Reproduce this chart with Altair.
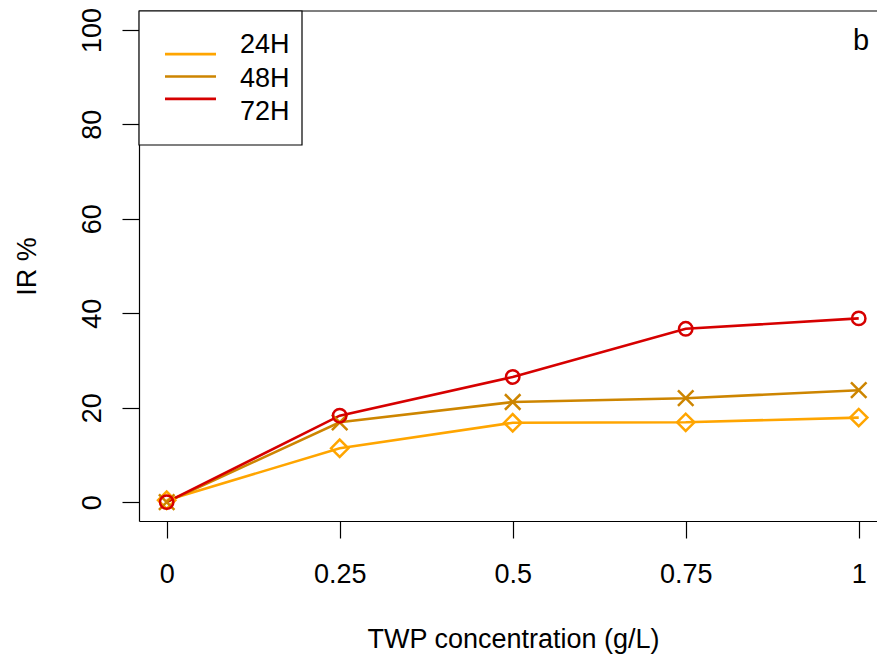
import altair as alt
import pandas as pd

# Inhibition rate (IR %) against TWP concentration, three exposure times
conc = [0, 0.25, 0.5, 0.75, 1]
ir_24h = [0.4, 11.4, 16.8, 16.9, 17.9]
ir_48h = [0.0, 16.9, 21.2, 22.0, 23.7]
ir_72h = [0.0, 18.3, 26.5, 36.7, 38.9]

series = ["24H", "48H", "72H"]
colors = ["#FFA500", "#CD8500", "#D60000"]
# open diamond, x-cross and open circle markers
shapes = ["diamond", "M-1,-1L1,1M-1,1L1,-1", "circle"]
sizes = [300, 180, 115]

x_ticks = [0, 0.25, 0.5, 0.75, 1]
y_ticks = [0, 20, 40, 60, 80, 100]

FONT = "Liberation Sans"
FS = 27

rows = []
for name, vals in zip(series, [ir_24h, ir_48h, ir_72h]):
    for c, v in zip(conc, vals):
        rows.append({"conc": c, "ir": v, "series": name})
df = pd.DataFrame(rows)
legend_df = pd.DataFrame({"series": series})
single = pd.DataFrame({"k": [0]})

W, H = 738, 510

xscale = alt.Scale(domain=[-0.04, 1.0264], nice=False, zero=False)
yscale = alt.Scale(domain=[-4, 104], nice=False, zero=False)
cscale = alt.Scale(domain=series, range=colors)

x_enc = alt.X(
    "conc:Q",
    scale=xscale,
    axis=alt.Axis(
        values=x_ticks,
        format="~g",
        title="TWP concentration (g/L)",
        titleX=374,
        titleY=126,
        titleAlign="center",
        titleBaseline="alphabetic",
        labelBaseline="alphabetic",
        labelPadding=44,
    ),
)
y_enc = alt.Y(
    "ir:Q",
    scale=yscale,
    axis=alt.Axis(
        values=y_ticks,
        title="IR %",
        titleAngle=270,
        titleX=-104,
        titleY=255,
        titleAlign="center",
        titleBaseline="alphabetic",
        labelAngle=270,
        labelAlign="center",
        labelBaseline="alphabetic",
        labelPadding=22,
    ),
)

lines = alt.Chart(df).mark_line(strokeWidth=2.6).encode(
    x=x_enc,
    y=y_enc,
    color=alt.Color("series:N", scale=cscale, legend=None),
    order=alt.Order("conc:Q"),
)

points = alt.Chart(df).mark_point(filled=False, strokeWidth=2.5, opacity=1).encode(
    x=alt.X("conc:Q", scale=xscale),
    y=alt.Y("ir:Q", scale=yscale),
    color=alt.Color("series:N", scale=cscale, legend=None),
    shape=alt.Shape("series:N", scale=alt.Scale(domain=series, range=shapes), legend=None),
    size=alt.Size("series:N", scale=alt.Scale(domain=series, range=sizes), legend=None),
)

# frame: top edge (left and bottom come from the axis domains)
top_edge = alt.Chart(single).mark_rule(color="black", strokeWidth=1.2).encode(
    x=alt.value(0), x2=alt.value(W + 5), y=alt.value(0)
)

# panel letter
panel = alt.Chart(single).mark_text(
    text="b", font=FONT, fontSize=29, fontWeight="normal",
    align="center", baseline="alphabetic", color="black"
).encode(x=alt.value(722), y=alt.value(39))

plot = alt.layer(lines, points, top_edge, panel)

# legend box in the top-left corner
leg_y = alt.Y("series:N", scale=alt.Scale(domain=series, range=[32, 99], padding=0), axis=None)
leg_box = alt.Chart(single).mark_rect(
    fill="white", stroke="black", strokeWidth=1.2
).encode(x=alt.value(0), x2=alt.value(163), y=alt.value(0), y2=alt.value(134))
leg_lines = alt.Chart(legend_df).mark_rule(strokeWidth=2.6).encode(
    x=alt.value(26), x2=alt.value(77), y=leg_y,
    color=alt.Color("series:N", scale=cscale, legend=None),
)
leg_text = alt.Chart(legend_df).mark_text(
    font=FONT, fontSize=FS, align="left", baseline="middle", dy=2, color="black"
).encode(x=alt.value(101), y=leg_y, text="series:N")

legend = alt.layer(leg_box, leg_lines, leg_text).resolve_scale(y="independent")

chart = (
    alt.layer(plot, legend)
    .resolve_scale(y="independent")
    .properties(
        width=W,
        height=H,
        autosize=alt.AutoSizeParams(type="none"),
        padding={"left": 139, "top": 11, "right": 0, "bottom": 137},
        background="white",
    )
    .configure_view(stroke=None)
    .configure_axis(
        grid=False,
        domainColor="black",
        domainWidth=1.2,
        tickColor="black",
        tickWidth=1.2,
        tickSize=17,
        labelFont=FONT,
        labelFontSize=FS,
        labelColor="black",
        titleFont=FONT,
        titleFontSize=FS,
        titleFontWeight="normal",
        titleColor="black",
        labelOverlap=False,
        labelFlush=False,
    )
)

chart.save("out.html", embed_options={"renderer": "svg", "actions": False})
